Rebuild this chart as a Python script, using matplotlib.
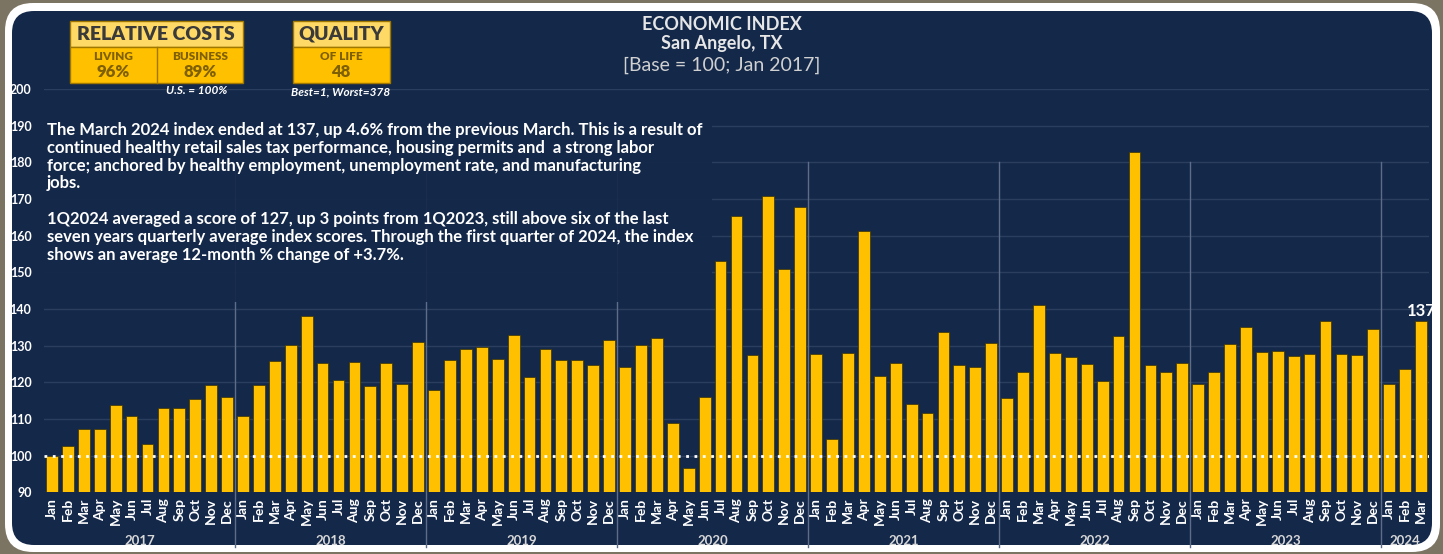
import matplotlib.pyplot as plt
from matplotlib.patches import FancyBboxPatch, Rectangle

# Datos: indice economico mensual (base = 100, ene 2017)
years = ['2017', '2018', '2019', '2020', '2021', '2022', '2023', '2024']
months = ['Jan', 'Feb', 'Mar', 'Apr', 'May', 'Jun', 'Jul', 'Aug', 'Sep', 'Oct', 'Nov', 'Dec']
idx_2017 = [100, 102.5, 107.2, 107.2, 113.8, 110.8, 103.3, 113.1, 113.0, 115.5, 119.2, 116.0]
idx_2018 = [110.7, 119.4, 125.7, 130.1, 138.2, 125.2, 120.7, 125.6, 119.0, 125.4, 119.6, 131.1]
idx_2019 = [117.8, 126.1, 129.1, 129.6, 126.4, 132.9, 121.4, 129.1, 126.2, 126.2, 124.8, 131.5]
idx_2020 = [124.1, 130.2, 132.2, 108.9, 96.5, 115.9, 153.0, 165.4, 127.4, 170.8, 150.9, 167.8]
idx_2021 = [127.8, 104.5, 128.1, 161.3, 121.7, 125.2, 114.0, 111.6, 133.7, 124.6, 124.1, 130.8]
idx_2022 = [115.6, 122.7, 141.0, 128.0, 126.8, 125.1, 120.3, 132.7, 182.9, 124.7, 122.9, 125.4]
idx_2023 = [119.6, 122.9, 130.5, 135.0, 128.4, 128.5, 127.3, 127.7, 136.6, 127.8, 127.5, 134.5]
idx_2024 = [119.5, 123.5, 136.7]
last_label = '137'

yticks = [90, 100, 110, 120, 130, 140, 150, 160, 170, 180, 190, 200]

texto = ("The March 2024 index ended at 137, up 4.6% from the previous March. This is a result of\n"
         "continued healthy retail sales tax performance, housing permits and  a strong labor\n"
         "force; anchored by healthy employment, unemployment rate, and manufacturing\n"
         "jobs.\n"
         "\n"
         "1Q2024 averaged a score of 127, up 3 points from 1Q2023, still above six of the last\n"
         "seven years quarterly average index scores. Through the first quarter of 2024, the index\n"
         "shows an average 12-month % change of +3.7%.")

# Colores
NAVY = '#14284a'
BROWN = '#7c7462'
GOLD = '#ffc000'
LIGHT_GOLD = '#ffd966'
DARK_GOLD = '#7f6000'
GRID = '#2b3e5e'
SEP = '#5d6d88'

plt.rcParams['font.family'] = ['Lato', 'DejaVu Sans']

all_idx = idx_2017 + idx_2018 + idx_2019 + idx_2020 + idx_2021 + idx_2022 + idx_2023 + idx_2024
year_lists = [idx_2017, idx_2018, idx_2019, idx_2020, idx_2021, idx_2022, idx_2023, idx_2024]
labels = []
for yl in year_lists:
    labels += months[:len(yl)]
x = list(range(len(all_idx)))

W, H = 1443, 554
fig = plt.figure(figsize=(W / 100, H / 100), dpi=100, facecolor=BROWN)

# Fondo en coordenadas de pixel
bg = fig.add_axes([0, 0, 1, 1], zorder=0)
bg.set_xlim(0, W)
bg.set_ylim(H, 0)
bg.axis('off')
bg.add_patch(FancyBboxPatch((5, 3), 1435, 549, boxstyle='round,pad=0,rounding_size=28',
                            facecolor='white', edgecolor='none'))
bg.add_patch(FancyBboxPatch((12, 11), 1420, 534, boxstyle='round,pad=0,rounding_size=22',
                            facecolor=NAVY, edgecolor='none'))

# Cajas de costos relativos y calidad de vida
edge = '#a07800'
bg.add_patch(Rectangle((70, 21), 173, 26, facecolor=LIGHT_GOLD, edgecolor=edge, lw=1))
bg.add_patch(Rectangle((70, 47), 173, 36, facecolor=GOLD, edgecolor=edge, lw=1))
bg.plot([157, 157], [47, 83], color=edge, lw=1)
bg.add_patch(Rectangle((293, 21), 97, 26, facecolor=LIGHT_GOLD, edgecolor=edge, lw=1))
bg.add_patch(Rectangle((293, 47), 97, 36, facecolor=GOLD, edgecolor=edge, lw=1))

bg.text(156, 34, 'RELATIVE COSTS', ha='center', va='center', fontsize=14, fontweight='heavy', color='#3a3a3a')
bg.text(341, 34, 'QUALITY', ha='center', va='center', fontsize=14, fontweight='heavy', color='#3a3a3a')
bg.text(113, 57, 'LIVING', ha='center', va='center', fontsize=8.5, fontweight='heavy', color=DARK_GOLD)
bg.text(113, 72, '96%', ha='center', va='center', fontsize=12, fontweight='heavy', color=DARK_GOLD)
bg.text(200, 57, 'BUSINESS', ha='center', va='center', fontsize=8.5, fontweight='heavy', color=DARK_GOLD)
bg.text(200, 72, '89%', ha='center', va='center', fontsize=12, fontweight='heavy', color=DARK_GOLD)
bg.text(341, 57, 'OF LIFE', ha='center', va='center', fontsize=8.5, fontweight='heavy', color=DARK_GOLD)
bg.text(341, 72, '48', ha='center', va='center', fontsize=12, fontweight='heavy', color=DARK_GOLD)

# Titulo
bg.text(722, 24, 'ECONOMIC INDEX', ha='center', va='center', fontsize=13, fontweight='bold', color='#e6e6e6')
bg.text(722, 44, 'San Angelo, TX', ha='center', va='center', fontsize=13, fontweight='bold', color='#e6e6e6')
bg.text(722, 65, '[Base = 100; Jan 2017]', ha='center', va='center', fontsize=14, color='#d0d0d0')

# Grafico de barras
ax = fig.add_axes([44 / W, 1 - 492.3 / H, (1429 - 44) / W, (492.3 - 89) / H], zorder=1)
ax.set_facecolor('none')
ax.set_axisbelow(True)
ax.bar(x, all_idx, width=0.74, color=GOLD, edgecolor='#3a3200', linewidth=0.5, zorder=2)
ax.axhline(100, color='white', linestyle=(0, (1, 2)), lw=2, zorder=3)
ax.text(x[-1], all_idx[-1] + 0.6, last_label, ha='center', va='bottom',
        fontsize=12, fontweight='bold', color='white', zorder=5)

ax.set_xlim(-0.5, len(all_idx) - 0.5)
ax.set_ylim(90, 200)
ax.set_yticks(yticks)
ax.set_yticklabels([str(t) for t in yticks], fontsize=9, fontweight='bold', color='white')
ax.set_xticks(x)
ax.set_xticklabels(labels, rotation=90, fontsize=10, fontweight='bold', color='white')
ax.tick_params(length=0)
ax.tick_params(axis='y', pad=9)
ax.tick_params(axis='x', pad=4)
ax.yaxis.grid(True, color=GRID, lw=1)
for s in ax.spines.values():
    s.set_visible(False)

# Notas bajo las cajas (encima de la rejilla)
ax.text(197, 91, 'U.S. = 100%', transform=bg.transData, ha='center', va='center', fontsize=8.5,
        fontweight='bold', style='italic', color='white', zorder=5)
ax.text(341, 92, 'Best=1, Worst=378', transform=bg.transData, ha='center', va='center', fontsize=8.5,
        fontweight='bold', style='italic', color='white', zorder=5)

# Separadores de año y etiquetas de año
start = 0
for i, yl in enumerate(year_lists):
    end = start + len(yl)
    ax.text((start + end - 1) / 2, -0.121, years[i], transform=ax.get_xaxis_transform(),
            ha='center', va='center', fontsize=9.5, fontweight='bold', color='#d8d8d8')
    if i > 0:
        ax.axvline(start - 0.5, ymin=-0.135, ymax=0.818, color=SEP, lw=1, clip_on=False, zorder=1)
    start = end

# Bloque de texto con fondo que tapa rejilla
ax.add_patch(Rectangle((40, 112), 672, 190, transform=bg.transData, facecolor=NAVY,
                       edgecolor='none', alpha=0.93, zorder=3, clip_on=False))
ax.text(47, 122, texto, transform=bg.transData, ha='left', va='top', fontsize=12,
        fontweight='bold', color='white', linespacing=1.14, zorder=4)

plt.savefig('out.png', dpi=100, facecolor=BROWN)
